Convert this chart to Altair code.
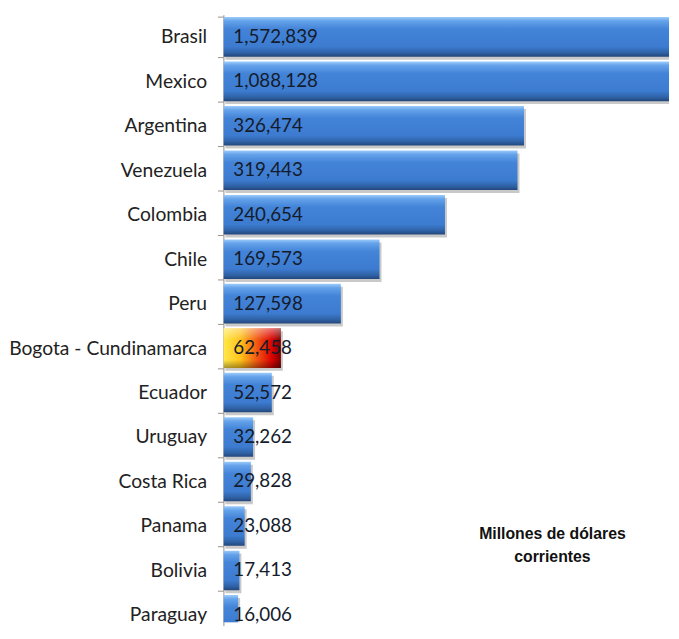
import altair as alt
import pandas as pd

paises = ["Brasil", "Mexico", "Argentina", "Venezuela", "Colombia", "Chile", "Peru",
          "Bogota - Cundinamarca", "Ecuador", "Uruguay", "Costa Rica", "Panama",
          "Bolivia", "Paraguay"]
valores = [1572839, 1088128, 326474, 319443, 240654, 169573, 127598,
           62458, 52572, 32262, 29828, 23088, 17413, 16006]
destacado = "Bogota - Cundinamarca"
nota = ["Millones de dólares", "corrientes"]

df = pd.DataFrame({"pais": paises, "valor": valores})

FONT = "Lato, Open Sans, sans-serif"

y_enc = alt.Y("pais:N", sort=paises, title=None,
              scale=alt.Scale(paddingInner=0.11, paddingOuter=0.055, range=[0, 630]),
              axis=alt.Axis(domainColor="#9a9088", tickColor="#9a9088", tickSize=6,
                            tickBand="extent", labelFont=FONT, labelFontSize=19.5,
                            labelColor="#222222", labelPadding=11, labelLimit=400))
x_enc = alt.X("valor:Q", axis=None, scale=alt.Scale(domain=[0, 484000], nice=False))

blue = alt.LinearGradient(gradient="linear", x1=0, x2=0, y1=0, y2=1, stops=[
    alt.GradientStop(color="#9ccbf9", offset=0),
    alt.GradientStop(color="#64a2ea", offset=0.1),
    alt.GradientStop(color="#4484d8", offset=0.3),
    alt.GradientStop(color="#3c7bcf", offset=0.75),
    alt.GradientStop(color="#2f62a6", offset=0.9),
    alt.GradientStop(color="#23467a", offset=1),
])
fire = alt.LinearGradient(gradient="linear", x1=0, x2=1, y1=0, y2=0, stops=[
    alt.GradientStop(color="#ffe84a", offset=0),
    alt.GradientStop(color="#ffc21a", offset=0.3),
    alt.GradientStop(color="#f04a10", offset=0.62),
    alt.GradientStop(color="#d80000", offset=0.85),
    alt.GradientStop(color="#7a0000", offset=1),
])
shine = alt.LinearGradient(gradient="linear", x1=0, x2=0, y1=0, y2=1, stops=[
    alt.GradientStop(color="rgba(255,255,255,0.45)", offset=0),
    alt.GradientStop(color="rgba(255,255,255,0.0)", offset=0.3),
    alt.GradientStop(color="rgba(0,0,0,0.0)", offset=0.8),
    alt.GradientStop(color="rgba(0,0,0,0.35)", offset=1),
])

base = alt.Chart(df)

shadow = base.mark_bar(color="#9c9c9c", opacity=0.55, yOffset=3, xOffset=2, clip=True).encode(
    y=y_enc, x=x_enc)
bars = base.transform_filter(alt.datum.pais != destacado).mark_bar(
    color=blue, clip=True).encode(y=y_enc, x=x_enc)
hot = base.transform_filter(alt.datum.pais == destacado).mark_bar(
    color=fire, clip=True).encode(y=y_enc, x=x_enc)
hot_shine = base.transform_filter(alt.datum.pais == destacado).mark_bar(
    color=shine, clip=True).encode(y=y_enc, x=x_enc)
labels = base.mark_text(align="left", dx=10, font=FONT, fontSize=19, color="#141c2c").encode(
    y=y_enc, x=alt.datum(0), text=alt.Text("valor:Q", format=","))
note = alt.Chart(pd.DataFrame({"t": [nota]})).mark_text(
    font="Liberation Sans, Arial, sans-serif", fontSize=16, fontWeight="bold",
    color="#111111", lineHeight=23, align="center", baseline="middle").encode(
    text="t", x=alt.value(333), y=alt.value(526))

chart = alt.layer(shadow, bars, hot, hot_shine, labels, note).properties(
    width=451, height=615,
    autosize=alt.AutoSizeParams(type="none"),
    padding={"left": 218, "top": 3, "right": 2, "bottom": 0},
).configure_view(stroke=None)

chart.save("out.html", embed_options={"renderer": "svg", "actions": False})
